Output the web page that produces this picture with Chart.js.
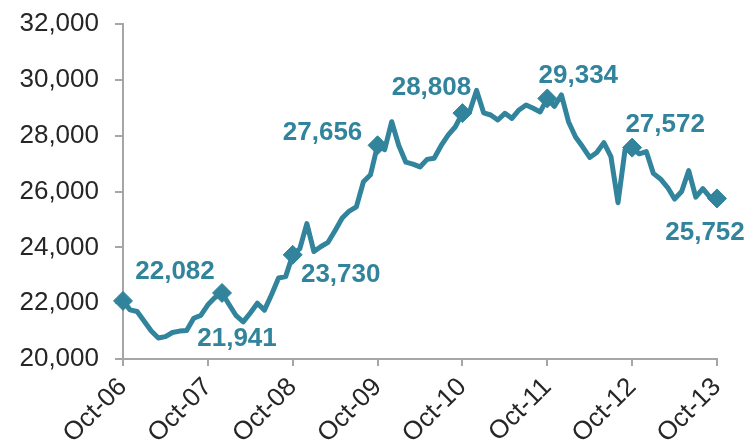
<!DOCTYPE html>
<html>
<head>
<meta charset="utf-8">
<script src="https://cdn.jsdelivr.net/npm/chart.js@4.4.1/dist/chart.umd.min.js"></script>
<style>
  html, body { margin: 0; padding: 0; background: #ffffff; }
  #wrap { width: 754px; height: 443px; }
</style>
</head>
<body>
<div id="wrap"><canvas id="c" width="754" height="443"></canvas></div>
<script>
// ---- DATA ----
const months = [
  'Oct-06','Nov-06','Dec-06',
  'Jan-07','Feb-07','Mar-07','Apr-07','May-07','Jun-07','Jul-07','Aug-07','Sep-07','Oct-07','Nov-07','Dec-07',
  'Jan-08','Feb-08','Mar-08','Apr-08','May-08','Jun-08','Jul-08','Aug-08','Sep-08','Oct-08','Nov-08','Dec-08',
  'Jan-09','Feb-09','Mar-09','Apr-09','May-09','Jun-09','Jul-09','Aug-09','Sep-09','Oct-09','Nov-09','Dec-09',
  'Jan-10','Feb-10','Mar-10','Apr-10','May-10','Jun-10','Jul-10','Aug-10','Sep-10','Oct-10','Nov-10','Dec-10',
  'Jan-11','Feb-11','Mar-11','Apr-11','May-11','Jun-11','Jul-11','Aug-11','Sep-11','Oct-11','Nov-11','Dec-11',
  'Jan-12','Feb-12','Mar-12','Apr-12','May-12','Jun-12','Jul-12','Aug-12','Sep-12','Oct-12','Nov-12','Dec-12',
  'Jan-13','Feb-13','Mar-13','Apr-13','May-13','Jun-13','Jul-13','Aug-13','Sep-13','Oct-13'
];
const tickLabels = ['Oct-06','Oct-07','Oct-08','Oct-09','Oct-10','Oct-11','Oct-12','Oct-13'];

const seriesValues = [
  22082, 21760, 21700,
  21350, 21000, 20750, 20800, 20950, 21000, 21020, 21460, 21560, 21941, 22200, 22366,
  21950, 21550, 21330, 21650, 22000, 21750, 22300, 22900, 22950, 23730, 23950, 24850,
  23850, 24030, 24180, 24600, 25050, 25300, 25450, 26350, 26600, 27656, 27500, 28500,
  27650, 27050, 26980, 26880, 27150, 27190, 27650, 28030, 28320, 28808, 28850, 29620,
  28820, 28740, 28560, 28800, 28620, 28920, 29100, 28980, 28850, 29334, 29050, 29460,
  28500, 27950, 27600, 27220, 27400, 27750, 27250, 25600, 27500, 27572, 27350, 27430,
  26650, 26450, 26150, 25730, 26000, 26750, 25800, 26100, 25800, 25752
];

const markerMonths = ['Oct-06','Dec-07','Oct-08','Oct-09','Oct-10','Oct-11','Oct-12','Oct-13'];
const markerLabels = ['22,082','21,941','23,730','27,656','28,808','29,334','27,572','25,752'];

const yTicks = [20000, 22000, 24000, 26000, 28000, 30000, 32000];

// ---- STYLE / LAYOUT (not data) ----
const TEAL = '#31849B';
const AXIS = '#A6A6A6';
const TEXT = '#262626';
const FONT = "'Liberation Sans', Arial, sans-serif";
// label offsets from each marker (px)
const labelOffsets = [[52,-29],[15,46],[48,20],[-55,-12],[-31,-25],[31,-23],[33,-23],[-12,34]];

const markerData = months.map(m => {
  const k = markerMonths.indexOf(m);
  return k >= 0 ? seriesValues[months.indexOf(m)] : null;
});

const labelPlugin = {
  id: 'markerLabels',
  afterDatasetsDraw(chart) {
    const ctx = chart.ctx;
    const xs = chart.scales.x, ys = chart.scales.y;
    ctx.save();
    ctx.font = "bold 26px " + FONT;
    ctx.fillStyle = TEAL;
    ctx.textAlign = 'center';
    ctx.textBaseline = 'middle';
    markerMonths.forEach((m, k) => {
      const idx = months.indexOf(m);
      const px = xs.getPixelForValue(idx);
      const py = ys.getPixelForValue(seriesValues[idx]);
      ctx.fillText(markerLabels[k], px + labelOffsets[k][0], py + labelOffsets[k][1]);
    });
    ctx.restore();
  }
};

new Chart(document.getElementById('c'), {
  type: 'line',
  data: {
    labels: months,
    datasets: [
      {
        data: seriesValues,
        borderColor: TEAL,
        borderWidth: 5,
        borderJoinStyle: 'round',
        borderCapStyle: 'round',
        pointRadius: 0,
        tension: 0,
        fill: false
      },
      {
        data: markerData,
        showLine: false,
        pointStyle: 'rectRot',
        pointRadius: 9.5,
        pointBackgroundColor: TEAL,
        pointBorderColor: TEAL,
        pointBorderWidth: 1
      }
    ]
  },
  options: {
    responsive: false,
    devicePixelRatio: 1,
    animation: false,
    layout: { padding: { top: 24, right: 37, left: 0, bottom: 0 } },
    plugins: { legend: { display: false }, tooltip: { enabled: false } },
    scales: {
      x: {
        type: 'category',
        offset: false,
        afterBuildTicks(scale) {
          scale.ticks = scale.ticks.filter(t => tickLabels.includes(months[t.value]));
        },
        afterFit(scale) { scale.height = 84; scale.paddingLeft = 0; scale.paddingRight = 0; },
        ticks: {
          autoSkip: false,
          maxRotation: 45,
          minRotation: 45,
          padding: 6,
          color: TEXT,
          font: { family: FONT, size: 26 },
          callback(value) { return months[value]; }
        },
        grid: { drawOnChartArea: false, drawTicks: true, tickLength: 7, color: AXIS, lineWidth: 2 },
        border: { display: true, color: AXIS, width: 2 }
      },
      y: {
        min: 20000,
        max: 32000,
        afterFit(scale) { scale.width = 123; scale.paddingTop = 0; scale.paddingBottom = 0; },
        afterBuildTicks(scale) { scale.ticks = yTicks.map(v => ({ value: v })); },
        ticks: {
          padding: 16,
          color: TEXT,
          font: { family: FONT, size: 26 },
          callback(value) { return value.toLocaleString('en-US'); }
        },
        grid: { drawOnChartArea: false, drawTicks: true, tickLength: 8, color: AXIS, lineWidth: 2 },
        border: { display: true, color: AXIS, width: 2 }
      }
    }
  },
  plugins: [labelPlugin]
});
</script>
</body>
</html>
